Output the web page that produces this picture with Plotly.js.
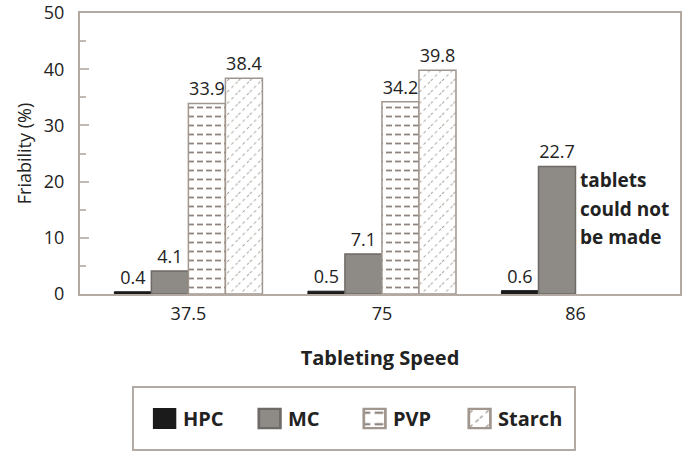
<!DOCTYPE html>
<html>
<head>
<meta charset="utf-8">
<script src="https://cdn.plot.ly/plotly-3.0.1.min.js"></script>
<style>
  html, body { margin: 0; padding: 0; background: #fff; }
  #chart { width: 689px; height: 452px; }
</style>
</head>
<body>
<div id="chart"></div>
<script>
// Friability of tablets by binder at each tableting speed
const speeds = ['37.5', '75', '86'];
const hpc    = [0.4, 0.5, 0.6];
const mc     = [4.1, 7.1, 22.7];
const pvp    = [33.9, 34.2, null];
const starch = [38.4, 39.8, null];
const noteLines = ['tablets', 'could not', 'be made'];

const FONT = '"Open Sans", "Noto Sans", sans-serif';
const FRAME = '#b3aba3';

function labels(vals) {
  return vals.map(v => (v === null ? '' : v.toFixed(1)));
}

function barTrace(name, vals, marker) {
  return {
    type: 'bar',
    name: name,
    x: speeds,
    y: vals,
    text: labels(vals),
    textposition: 'outside',
    cliponaxis: false,
    textfont: { family: FONT, size: 18, color: '#222' },
    marker: marker
  };
}

const traces = [
  barTrace('HPC', hpc, {
    color: '#1b1b1b',
    line: { color: '#1b1b1b', width: 1 }
  }),
  barTrace('MC', mc, {
    color: '#8e8a86',
    line: { color: '#6e6a67', width: 1.5 }
  }),
  barTrace('PVP', pvp, {
    color: '#ffffff',
    line: { color: '#a0968e', width: 1.5 },
    pattern: { shape: '-', fgcolor: '#8f857e', bgcolor: '#ffffff', size: 9, solidity: 0.2 }
  }),
  barTrace('Starch', starch, {
    color: '#ffffff',
    line: { color: '#a0968e', width: 1.5 },
    pattern: { shape: '/', fgcolor: '#9d948c', bgcolor: '#ffffff', size: 8, solidity: 0.12 }
  })
];

// note lines stacked beside the 86 group
const noteY = [0.4057, 0.3025, 0.2028];
const notes = noteLines.map((t, i) => ({
  xref: 'paper', yref: 'paper',
  x: 0.83, y: noteY[i],
  xanchor: 'left', yanchor: 'middle',
  align: 'left',
  showarrow: false,
  text: '<b>' + t + '</b>',
  font: { family: FONT, size: 19, color: '#222' }
}));

const layout = {
  width: 689,
  height: 452,
  margin: { l: 80, r: 9, t: 13, b: 158 },
  paper_bgcolor: '#ffffff',
  plot_bgcolor: '#ffffff',
  font: { family: FONT, color: '#222' },
  barmode: 'group',
  bargap: 0.235,
  bargroupgap: 0,
  showlegend: true,
  xaxis: {
    type: 'category',
    range: [-0.56, 2.54],
    showline: true,
    mirror: true,
    linecolor: FRAME,
    linewidth: 2,
    ticks: '',
    showgrid: false,
    zeroline: false,
    tickfont: { family: FONT, size: 18, color: '#222' },
    ticklabelstandoff: 2,
    title: {
      text: '<b>Tableting Speed</b>',
      font: { family: FONT, size: 20, color: '#222' },
      standoff: 27
    }
  },
  yaxis: {
    range: [0, 50],
    tickvals: [0, 10, 20, 30, 40, 50],
    showline: true,
    mirror: true,
    linecolor: FRAME,
    linewidth: 2,
    ticks: 'inside',
    ticklen: 9,
    tickwidth: 2,
    tickcolor: '#c2bab2',
    minor: { dtick: 5, ticks: 'inside', ticklen: 6, tickwidth: 2, tickcolor: '#c2bab2' },
    showgrid: false,
    zeroline: false,
    tickfont: { family: FONT, size: 18, color: '#222' },
    ticklabelstandoff: 10,
    title: {
      text: 'Friability (%)',
      font: { family: FONT, size: 18, color: '#222' },
      standoff: 8
    }
  },
  legend: {
    orientation: 'h',
    x: 0.105,
    xanchor: 'left',
    y: -0.443,
    yanchor: 'middle',
    bgcolor: 'rgba(0,0,0,0)',
    borderwidth: 0,
    entrywidth: 60,
    font: { family: FONT, size: 20, color: '#222', weight: 'bold' },
    itemclick: false
  },
  shapes: [
    {
      type: 'rect', xref: 'paper', yref: 'paper',
      x0: 0.0883, x1: 0.825, y0: -0.331, y1: -0.555,
      line: { color: FRAME, width: 2 },
      fillcolor: 'rgba(0,0,0,0)',
      layer: 'below'
    }
  ],
  annotations: notes
};

Plotly.newPlot('chart', traces, layout, { displayModeBar: false, staticPlot: true }).then(function (gd) {
  // enlarge the legend swatches
  gd.querySelectorAll('.legend .legendpoints').forEach(function (g) {
    g.setAttribute('transform', 'translate(18,0) scale(1.8,1.6) translate(-18,0)');
  });
  // break the fill patterns into short dashes
  document.querySelectorAll('pattern path').forEach(function (p) {
    const d = p.getAttribute('d') || '';
    p.setAttribute('stroke-dasharray', /l/.test(d) ? '3,3' : '6,4');
  });
});
</script>
</body>
</html>
